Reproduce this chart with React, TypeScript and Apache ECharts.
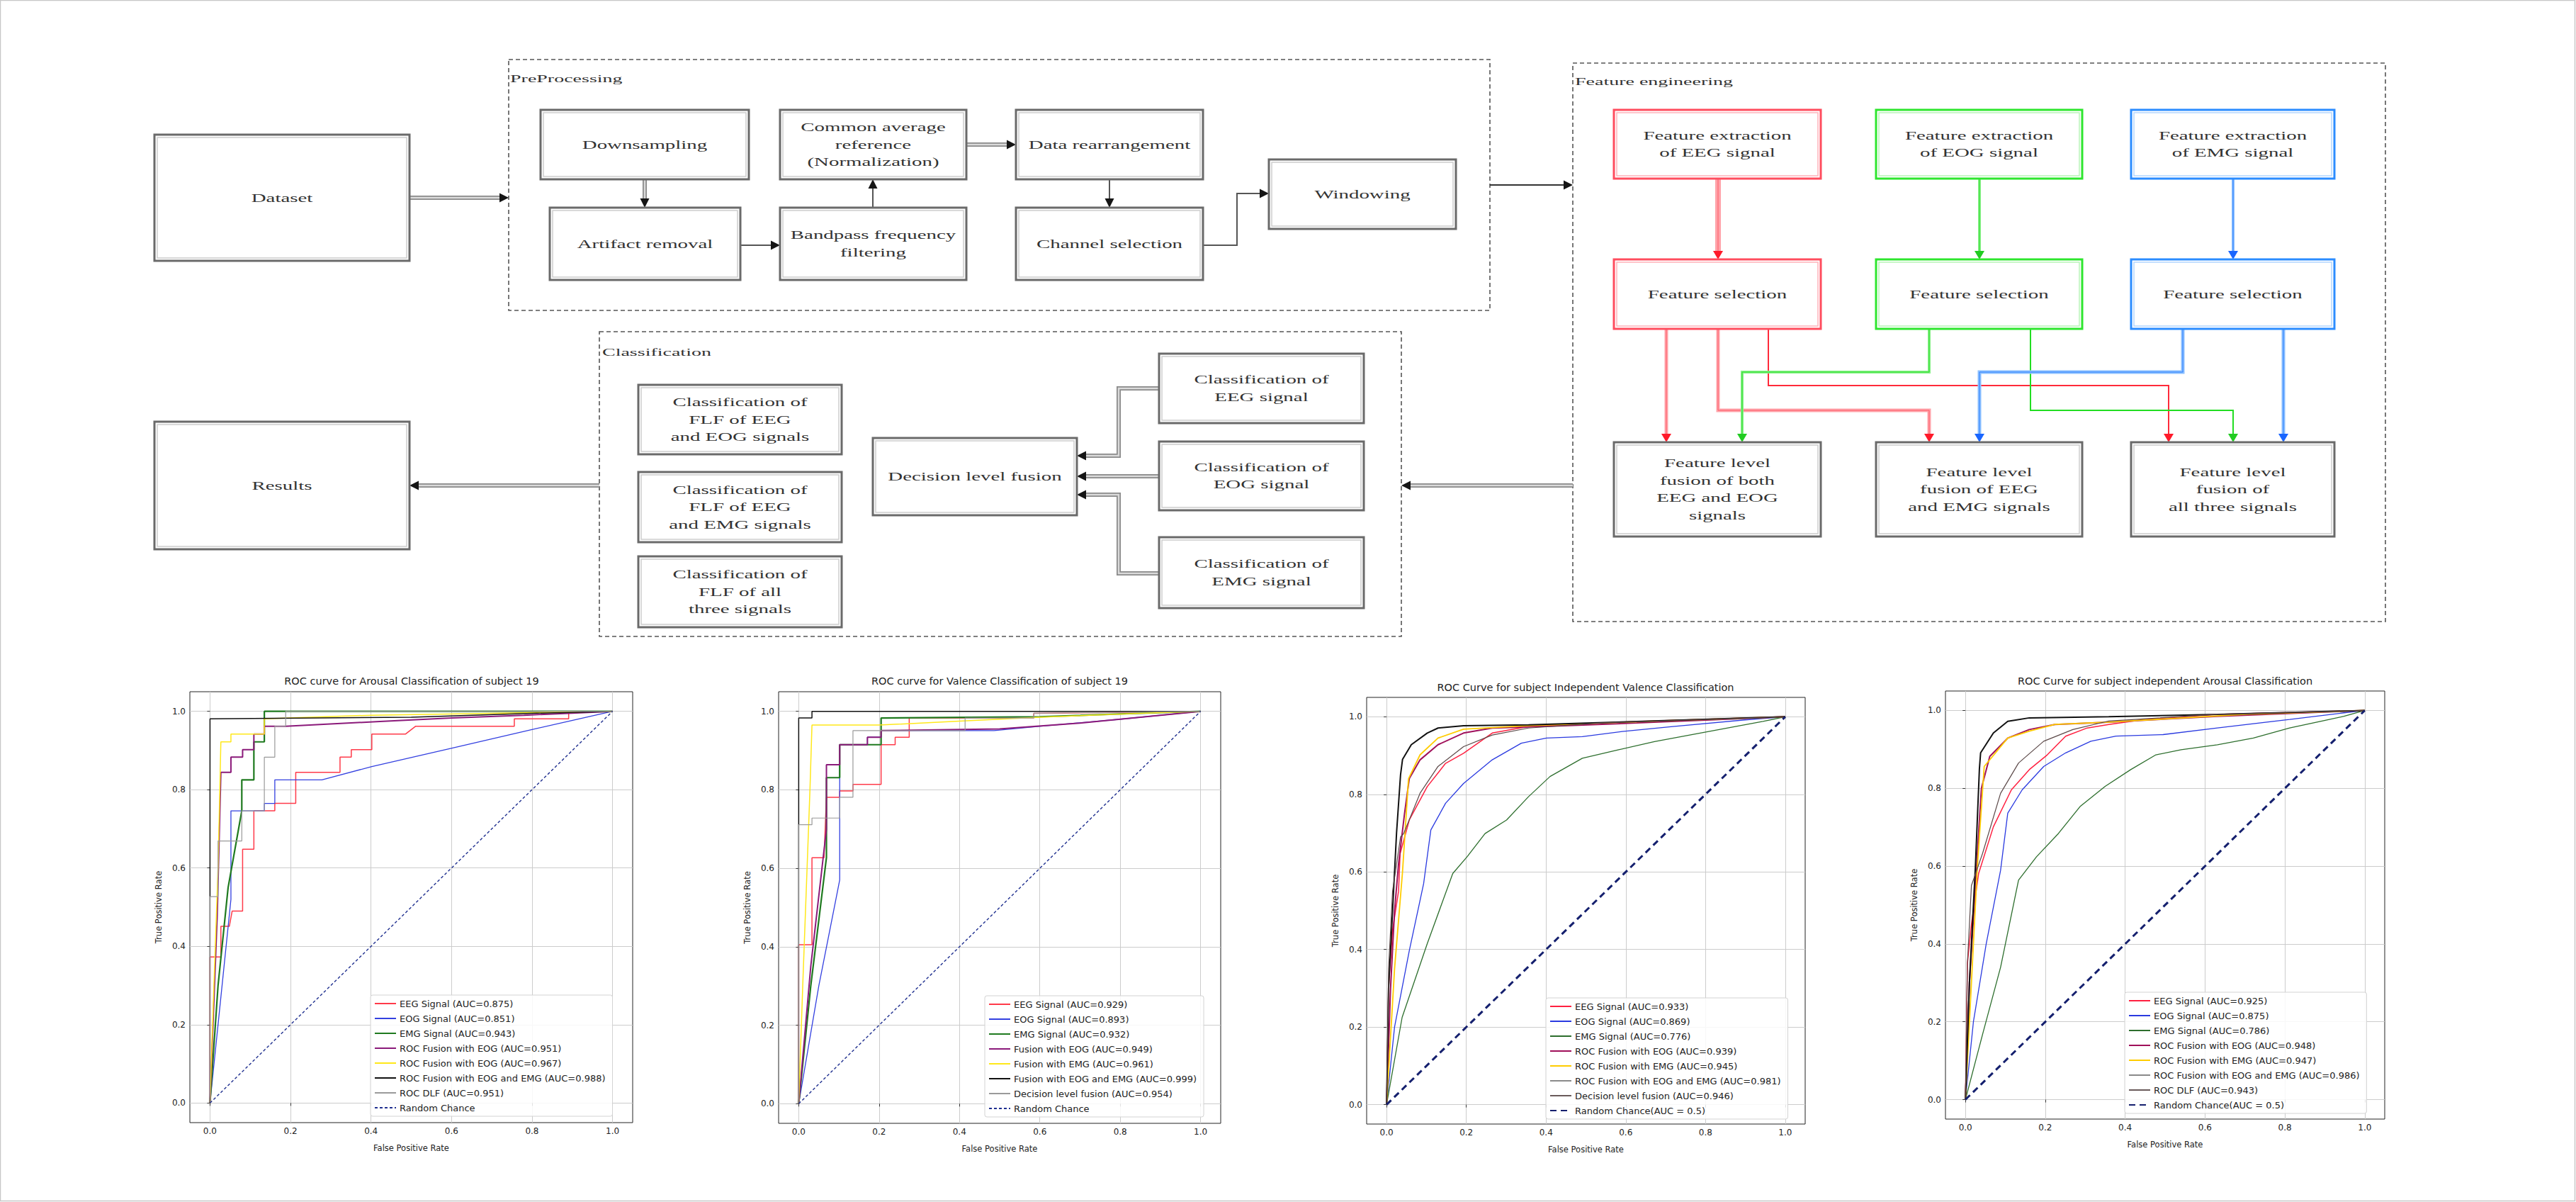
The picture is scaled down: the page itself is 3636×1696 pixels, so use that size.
import React, { useEffect, useRef } from 'react';
import * as echarts from 'echarts';

const FONT = '"DejaVu Sans", sans-serif';
const SERIF = '"Liberation Serif", "DejaVu Serif", serif';
const TICKS = [0, 0.2, 0.4, 0.6, 0.8, 1.0];
const RANDOM = [[0, 0], [1, 1]];

// ---------- Chart 1: Arousal, subject 19 ----------
const AR19_TITLE = 'ROC curve for Arousal Classification of subject 19';
const AR19_NAMES = ['EEG Signal (AUC=0.875)', 'EOG Signal (AUC=0.851)', 'EMG Signal (AUC=0.943)', 'ROC Fusion with EOG (AUC=0.951)', 'ROC Fusion with EOG (AUC=0.967)', 'ROC Fusion with EOG and EMG (AUC=0.988)', 'ROC DLF (AUC=0.951)', 'Random Chance'];
const AR19_EEG = [[0, 0], [0, 0.373], [0.027, 0.373], [0.027, 0.451], [0.048, 0.451], [0.055, 0.49], [0.081, 0.49], [0.081, 0.648], [0.109, 0.648], [0.109, 0.746], [0.161, 0.746], [0.161, 0.765], [0.213, 0.765], [0.213, 0.844], [0.323, 0.844], [0.323, 0.883], [0.351, 0.883], [0.351, 0.902], [0.402, 0.902], [0.402, 0.942], [0.486, 0.942], [0.511, 0.962], [0.756, 0.962], [0.756, 0.981], [0.891, 0.981], [0.891, 1.0], [1, 1]];
const AR19_EOG = [[0, 0], [0.052, 0.52], [0.052, 0.746], [0.135, 0.746], [0.135, 0.765], [0.161, 0.765], [0.161, 0.825], [0.278, 0.825], [0.402, 0.859], [0.601, 0.906], [0.798, 0.953], [1, 1]];
const AR19_EMG = [[0, 0], [0.02, 0.3], [0.045, 0.55], [0.079, 0.746], [0.079, 0.825], [0.109, 0.825], [0.109, 0.922], [0.135, 0.922], [0.135, 1.0], [1, 1]];
const AR19_FEOG = [[0, 0], [0.018, 0.48], [0.027, 0.844], [0.052, 0.844], [0.052, 0.883], [0.081, 0.883], [0.081, 0.902], [0.109, 0.902], [0.109, 0.942], [0.135, 0.942], [0.135, 0.962], [0.188, 0.962], [0.422, 0.974], [0.601, 0.983], [0.78, 0.99], [1, 1]];
const AR19_FEMG = [[0, 0], [0.008, 0.25], [0.02, 0.6], [0.027, 0.922], [0.052, 0.922], [0.052, 0.942], [0.135, 0.942], [0.135, 0.981], [0.4, 0.99], [0.7, 0.995], [1, 1]];
const AR19_FBOTH = [[0, 0], [0, 0.981], [0.5, 0.985], [0.8, 0.995], [1, 1]];
const AR19_DLF = [[0, 0], [0, 0.527], [0.02, 0.527], [0.02, 0.669], [0.079, 0.669], [0.079, 0.746], [0.135, 0.746], [0.135, 0.883], [0.161, 0.883], [0.161, 0.962], [0.188, 0.962], [0.188, 1.0], [1, 1]];

// ---------- Chart 2: Valence, subject 19 ----------
const VA19_TITLE = 'ROC curve for Valence Classification of subject 19';
const VA19_NAMES = ['EEG Signal (AUC=0.929)', 'EOG Signal (AUC=0.893)', 'EMG Signal (AUC=0.932)', 'Fusion with EOG (AUC=0.949)', 'Fusion with EMG (AUC=0.961)', 'Fusion with EOG and EMG (AUC=0.999)', 'Decision level fusion (AUC=0.954)', 'Random Chance'];
const VA19_EEG = [[0, 0], [0, 0.405], [0.033, 0.405], [0.033, 0.627], [0.063, 0.627], [0.069, 0.781], [0.102, 0.781], [0.102, 0.797], [0.135, 0.797], [0.135, 0.814], [0.205, 0.814], [0.205, 0.915], [0.24, 0.915], [0.24, 0.934], [0.275, 0.934], [0.275, 0.983], [0.585, 0.983], [0.585, 0.995], [1, 1]];
const VA19_EOG = [[0, 0], [0.05, 0.3], [0.102, 0.57], [0.102, 0.915], [0.171, 0.915], [0.171, 0.934], [0.205, 0.934], [0.205, 0.951], [0.486, 0.951], [0.603, 0.962], [0.801, 0.98], [1, 1]];
const VA19_EMG = [[0, 0], [0.03, 0.3], [0.069, 0.627], [0.069, 0.831], [0.102, 0.831], [0.102, 0.915], [0.205, 0.915], [0.205, 0.983], [0.6, 0.986], [0.85, 0.995], [1, 1]];
const VA19_FEOG = [[0, 0], [0.03, 0.35], [0.069, 0.7], [0.069, 0.864], [0.102, 0.864], [0.102, 0.915], [0.171, 0.915], [0.171, 0.934], [0.205, 0.934], [0.205, 0.951], [0.5, 0.955], [0.7, 0.97], [1, 1]];
const VA19_FEMG = [[0, 0], [0.01, 0.3], [0.028, 0.8], [0.033, 0.965], [0.2, 0.965], [0.4, 0.975], [0.6, 0.985], [0.85, 0.995], [1, 1]];
const VA19_FBOTH = [[0, 0], [0, 0.983], [0.033, 0.983], [0.033, 1.0], [1, 1]];
const VA19_DLF = [[0, 0], [0, 0.711], [0.033, 0.711], [0.033, 0.728], [0.102, 0.728], [0.102, 0.781], [0.135, 0.781], [0.135, 0.951], [0.414, 0.951], [0.414, 0.983], [0.585, 0.983], [0.585, 0.995], [1, 1]];

// ---------- Chart 3: subject independent Valence ----------
const VAI_TITLE = 'ROC Curve for subject Independent Valence Classification';
const VAI_NAMES = ['EEG Signal (AUC=0.933)', 'EOG Signal (AUC=0.869)', 'EMG Signal (AUC=0.776)', 'ROC Fusion with EOG (AUC=0.939)', 'ROC Fusion with EMG (AUC=0.945)', 'ROC Fusion with EOG and EMG (AUC=0.981)', 'Decision level fusion (AUC=0.946)', 'Random Chance(AUC = 0.5)'];
const VAI_EEG = [[0, 0], [0.005, 0.3], [0.015, 0.45], [0.03, 0.55], [0.034, 0.647], [0.057, 0.734], [0.102, 0.82], [0.148, 0.88], [0.193, 0.906], [0.265, 0.958], [0.356, 0.975], [0.627, 0.988], [1, 1]];
const VAI_EOG = [[0, 0], [0.02, 0.2], [0.057, 0.397], [0.093, 0.57], [0.111, 0.708], [0.148, 0.777], [0.193, 0.828], [0.265, 0.889], [0.338, 0.932], [0.401, 0.945], [0.491, 0.949], [0.591, 0.962], [0.718, 0.975], [0.899, 0.992], [1, 1]];
const VAI_EMG = [[0, 0], [0.039, 0.225], [0.102, 0.415], [0.166, 0.596], [0.202, 0.639], [0.247, 0.699], [0.301, 0.734], [0.356, 0.794], [0.41, 0.846], [0.491, 0.893], [0.582, 0.915], [0.672, 0.936], [0.808, 0.962], [0.944, 0.988], [1, 1]];
const VAI_FEOG = [[0, 0], [0.01, 0.3], [0.02, 0.5], [0.03, 0.62], [0.045, 0.75], [0.057, 0.841], [0.084, 0.889], [0.129, 0.928], [0.193, 0.958], [0.265, 0.971], [0.446, 0.977], [0.627, 0.984], [1, 1]];
const VAI_FEMG = [[0, 0], [0.02, 0.35], [0.04, 0.6], [0.055, 0.84], [0.084, 0.902], [0.129, 0.945], [0.193, 0.968], [0.356, 0.977], [0.7, 0.99], [1, 1]];
const VAI_FBOTH = [[0, 0], [0.005, 0.3], [0.015, 0.5], [0.025, 0.7], [0.035, 0.85], [0.04, 0.89], [0.062, 0.928], [0.102, 0.958], [0.129, 0.971], [0.193, 0.977], [0.356, 0.979], [0.627, 0.988], [1, 1]];
const VAI_DLF = [[0, 0], [0.005, 0.35], [0.015, 0.55], [0.035, 0.69], [0.043, 0.699], [0.084, 0.803], [0.129, 0.872], [0.193, 0.923], [0.265, 0.953], [0.356, 0.971], [0.537, 0.984], [1, 1]];

// ---------- Chart 4: subject independent Arousal ----------
const ARI_TITLE = 'ROC Curve for subject independent Arousal Classification';
const ARI_NAMES = ['EEG Signal (AUC=0.925)', 'EOG Signal (AUC=0.875)', 'EMG Signal (AUC=0.786)', 'ROC Fusion with EOG (AUC=0.948)', 'ROC Fusion with EMG (AUC=0.947)', 'ROC Fusion with EOG and EMG (AUC=0.986)', 'ROC DLF (AUC=0.943)', 'Random Chance(AUC = 0.5)'];
const ARI_EEG = [[0, 0], [0.005, 0.35], [0.015, 0.45], [0.033, 0.581], [0.07, 0.701], [0.115, 0.796], [0.16, 0.848], [0.205, 0.886], [0.251, 0.934], [0.305, 0.955], [0.359, 0.964], [0.45, 0.977], [0.631, 0.99], [1, 1]];
const ARI_EOG = [[0, 0], [0.02, 0.2], [0.052, 0.4], [0.088, 0.589], [0.106, 0.736], [0.142, 0.796], [0.196, 0.856], [0.251, 0.891], [0.314, 0.921], [0.377, 0.934], [0.495, 0.938], [0.631, 0.955], [0.812, 0.977], [0.948, 0.994], [1, 1]];
const ARI_EMG = [[0, 0], [0.043, 0.168], [0.088, 0.34], [0.133, 0.564], [0.178, 0.624], [0.233, 0.684], [0.287, 0.753], [0.35, 0.805], [0.414, 0.848], [0.477, 0.886], [0.54, 0.899], [0.631, 0.912], [0.721, 0.929], [0.812, 0.955], [0.948, 0.985], [1, 1]];
const ARI_FEOG = [[0, 0], [0.01, 0.3], [0.025, 0.55], [0.04, 0.8], [0.061, 0.882], [0.106, 0.929], [0.16, 0.951], [0.224, 0.964], [0.359, 0.97], [0.631, 0.985], [1, 1]];
const ARI_FEMG = [[0, 0], [0.015, 0.3], [0.03, 0.6], [0.047, 0.856], [0.106, 0.929], [0.16, 0.947], [0.224, 0.964], [0.359, 0.97], [0.7, 0.99], [1, 1]];
const ARI_FBOTH = [[0, 0], [0.01, 0.3], [0.025, 0.6], [0.035, 0.85], [0.038, 0.891], [0.07, 0.942], [0.106, 0.972], [0.16, 0.981], [0.359, 0.984], [0.631, 0.99], [1, 1]];
const ARI_DLF = [[0, 0], [0.005, 0.35], [0.015, 0.55], [0.043, 0.633], [0.088, 0.787], [0.133, 0.865], [0.196, 0.921], [0.269, 0.951], [0.359, 0.973], [0.631, 0.99], [1, 1]];

// line styles [color, width, dash]
const STYLE_SUBJ = [['#ff3a4a', 1.5], ['#3340e0', 1.3], ['#1f7a1f', 2.2], ['#8b1a7a', 2], ['#ffe81a', 1.5], ['#111111', 1.5], ['#9a9a9a', 1.2], ['#1f2f8f', 1.4, [4, 3]]];
const STYLE_IND = [['#ff2040', 1.5], ['#2a3ae0', 1.3], ['#2d6e2d', 1.3], ['#a0105a', 2], ['#ffcc00', 1.8], ['#111111', 2], ['#5b4848', 1.2], ['#15206e', 3, [9, 6]]];
// legend icon colours where the legend differs from the plotted line
const LEGEND_IND_OVERRIDE: Record<number, string> = { 5: '#8a8a8a', 6: '#6a5a5a' };

const CHARTS = [
  { title: AR19_TITLE, names: AR19_NAMES, data: [AR19_EEG, AR19_EOG, AR19_EMG, AR19_FEOG, AR19_FEMG, AR19_FBOTH, AR19_DLF, RANDOM], style: STYLE_SUBJ, override: {}, grid: [268, 976, 625, 608], titleXY: [581, 961], legend: [523, 1404] },
  { title: VA19_TITLE, names: VA19_NAMES, data: [VA19_EEG, VA19_EOG, VA19_EMG, VA19_FEOG, VA19_FEMG, VA19_FBOTH, VA19_DLF, RANDOM], style: STYLE_SUBJ, override: {}, grid: [1099, 976, 624, 609], titleXY: [1411, 961], legend: [1390, 1405] },
  { title: VAI_TITLE, names: VAI_NAMES, data: [VAI_EEG, VAI_EOG, VAI_EMG, VAI_FEOG, VAI_FEMG, VAI_FBOTH, VAI_DLF, RANDOM], style: STYLE_IND, override: LEGEND_IND_OVERRIDE, grid: [1929, 984, 619, 602], titleXY: [2238, 970], legend: [2182, 1408] },
  { title: ARI_TITLE, names: ARI_NAMES, data: [ARI_EEG, ARI_EOG, ARI_EMG, ARI_FEOG, ARI_FEMG, ARI_FBOTH, ARI_DLF, RANDOM], style: STYLE_IND, override: LEGEND_IND_OVERRIDE, grid: [2746, 975, 620, 604], titleXY: [3056, 961], legend: [2999, 1400] },
];

// ---------- Flowchart helpers ----------
const GRAY = ['#6a6a6a', '#cdcdcd'];
const RED = ['#ff4d5e', '#ffb3ba'];
const GREEN = ['#2ee62e', '#b8f5b8'];
const BLUE = ['#2b8cff', '#b3d6ff'];

function box(x1: number, y1: number, x2: number, y2: number, col: string[]) {
  return [
    { type: 'rect', silent: true, shape: { x: x1, y: y1, width: x2 - x1, height: y2 - y1 }, style: { fill: '#fff', stroke: col[0], lineWidth: 3 } },
    { type: 'rect', silent: true, shape: { x: x1 + 4, y: y1 + 4, width: x2 - x1 - 8, height: y2 - y1 - 8 }, style: { fill: 'none', stroke: col[1], lineWidth: 1.5 } },
  ];
}
function dashed(x1: number, y1: number, x2: number, y2: number) {
  return { type: 'rect', silent: true, shape: { x: x1, y: y1, width: x2 - x1, height: y2 - y1 }, style: { fill: 'none', stroke: '#555', lineWidth: 1.6, lineDash: [6, 4] } };
}
function txt(text: string, x: number, y: number, fs = 17, sx = 1.7, align = 'center') {
  return {
    type: 'text', silent: true, x, y, scaleX: sx,
    style: { text, x: 0, y: 0, fill: '#333333', fontSize: fs, fontFamily: SERIF, textAlign: align, align, textVerticalAlign: 'middle', verticalAlign: 'middle', lineHeight: 24.5 },
  };
}
function line(pts: number[][], color: string, w: number) {
  return { type: 'polyline', silent: true, shape: { points: pts }, style: { stroke: color, lineWidth: w, fill: 'none' } };
}
function thick(pts: number[][]) {
  return [line(pts, '#8a8a8a', 6), line(pts, '#dadada', 2.5)];
}
function arrow(x: number, y: number, dir: string, color = '#151515', L = 13, W = 13) {
  let p: number[][] = [];
  if (dir === 'r') p = [[x, y], [x - L, y - W / 2], [x - L, y + W / 2]];
  if (dir === 'l') p = [[x, y], [x + L, y - W / 2], [x + L, y + W / 2]];
  if (dir === 'u') p = [[x, y], [x - W / 2, y + L], [x + W / 2, y + L]];
  if (dir === 'd') p = [[x, y], [x - W / 2, y - L], [x + W / 2, y - L]];
  return { type: 'polygon', silent: true, shape: { points: p }, style: { fill: color } };
}
function colored(pts: number[][], dark: string, light: string, w: number) {
  return w > 3 ? [line(pts, light, w), line(pts, dark, 1)] : [line(pts, dark, w)];
}

function buildGraphic() {
  const g: any[] = [];
  // page border
  g.push({ type: 'rect', silent: true, shape: { x: 0.5, y: 0.5, width: 3634, height: 1694 }, style: { fill: 'none', stroke: '#c8c8c8', lineWidth: 1.5 } });

  // dashed groups
  g.push(dashed(718, 84, 2103, 438), dashed(2220, 89, 3367, 877), dashed(846, 468, 1978, 898));
  g.push(txt('PreProcessing', 720, 111, 14, 2.0, 'left'));
  g.push(txt('Feature engineering', 2223, 115, 14, 2.0, 'left'));
  g.push(txt('Classification', 850, 497, 14, 2.0, 'left'));

  // connectors (drawn below boxes)
  g.push(...thick([[578, 279], [706, 279]]), arrow(718, 279, 'r'));
  g.push(...thick([[910, 253], [910, 281]]), arrow(910, 293, 'd'));
  g.push(line([[1045, 346], [1090, 346]], '#555', 2), arrow(1101, 346, 'r'));
  g.push(line([[1232, 293], [1232, 264]], '#555', 2), arrow(1232, 253, 'u'));
  g.push(...thick([[1364, 204], [1422, 204]]), arrow(1434, 204, 'r'));
  g.push(line([[1566, 253], [1566, 282]], '#555', 2), arrow(1566, 293, 'd'));
  g.push(line([[1698, 346], [1746, 346], [1746, 273], [1780, 273]], '#555', 2), arrow(1791, 273, 'r'));
  g.push(line([[2103, 261], [2208, 261]], '#333', 2), arrow(2220, 261, 'r'));
  g.push(...thick([[2220, 685], [1990, 685]]), arrow(1978, 685, 'l'));
  g.push(...thick([[846, 685], [590, 685]]), arrow(578, 685, 'l'));
  g.push(...thick([[1636, 548], [1579, 548], [1579, 643], [1532, 643]]), arrow(1520, 643, 'l'));
  g.push(...thick([[1636, 672], [1532, 672]]), arrow(1520, 672, 'l'));
  g.push(...thick([[1636, 809], [1579, 809], [1579, 698], [1532, 698]]), arrow(1520, 698, 'l'));

  // feature engineering connectors
  g.push(...colored([[2425, 252], [2425, 355]], '#ff5a66', '#ffa3aa', 8), arrow(2425, 366, 'd', '#ff1a2a', 12, 14));
  g.push(...colored([[2794, 252], [2794, 355]], '#22dd22', '#88f088', 4), arrow(2794, 366, 'd', '#22cc22', 12, 14));
  g.push(...colored([[3152, 252], [3152, 355]], '#2a7fff', '#8cc0ff', 4), arrow(3152, 366, 'd', '#1a66ff', 12, 14));

  g.push(...colored([[2352, 464], [2352, 613]], '#ff5a66', '#ffa3aa', 5), arrow(2352, 624, 'd', '#ff1a2a', 12, 14));
  g.push(...colored([[2425, 464], [2425, 579], [2723, 579], [2723, 613]], '#ff5a66', '#ffa3aa', 5), arrow(2723, 624, 'd', '#ff1a2a', 12, 14));
  g.push(...colored([[2496, 464], [2496, 544], [3061, 544], [3061, 613]], '#ff2a3a', '#ff2a3a', 2), arrow(3061, 624, 'd', '#ff1a2a', 12, 14));
  g.push(...colored([[2723, 464], [2723, 525], [2459, 525], [2459, 613]], '#22dd22', '#88f088', 4), arrow(2459, 624, 'd', '#22cc22', 12, 14));
  g.push(...colored([[2866, 464], [2866, 579], [3152, 579], [3152, 613]], '#22dd22', '#22dd22', 2), arrow(3152, 624, 'd', '#22cc22', 12, 14));
  g.push(...colored([[3081, 464], [3081, 525], [2794, 525], [2794, 613]], '#2a7fff', '#8cc0ff', 5), arrow(2794, 624, 'd', '#1a66ff', 12, 14));
  g.push(...colored([[3223, 464], [3223, 613]], '#2a7fff', '#8cc0ff', 5), arrow(3223, 624, 'd', '#1a66ff', 12, 14));

  // boxes + labels
  const B = (x1: number, y1: number, x2: number, y2: number, col: string[], label: string) => {
    g.push(...box(x1, y1, x2, y2, col));
    g.push(txt(label, (x1 + x2) / 2, (y1 + y2) / 2));
  };
  B(218, 190, 578, 368, GRAY, 'Dataset');
  B(218, 595, 578, 775, GRAY, 'Results');
  B(763, 155, 1057, 253, GRAY, 'Downsampling');
  B(1101, 155, 1364, 253, GRAY, 'Common average\nreference\n(Normalization)');
  B(1434, 155, 1698, 253, GRAY, 'Data rearrangement');
  B(776, 293, 1045, 395, GRAY, 'Artifact removal');
  B(1101, 293, 1364, 395, GRAY, 'Bandpass frequency\nfiltering');
  B(1434, 293, 1698, 395, GRAY, 'Channel selection');
  B(1791, 225, 2055, 323, GRAY, 'Windowing');

  B(2278, 155, 2570, 252, RED, 'Feature extraction\nof EEG signal');
  B(2648, 155, 2939, 252, GREEN, 'Feature extraction\nof EOG signal');
  B(3008, 155, 3295, 252, BLUE, 'Feature extraction\nof EMG signal');
  B(2278, 366, 2570, 464, RED, 'Feature selection');
  B(2648, 366, 2939, 464, GREEN, 'Feature selection');
  B(3008, 366, 3295, 464, BLUE, 'Feature selection');
  B(2278, 624, 2570, 757, GRAY, 'Feature level\nfusion of both\nEEG and EOG\nsignals');
  B(2648, 624, 2939, 757, GRAY, 'Feature level\nfusion of EEG\nand EMG signals');
  B(3008, 624, 3295, 757, GRAY, 'Feature level\nfusion of\nall three signals');

  B(901, 543, 1188, 641, GRAY, 'Classification of\nFLF of EEG\nand EOG signals');
  B(901, 666, 1188, 765, GRAY, 'Classification of\nFLF of EEG\nand EMG signals');
  B(901, 785, 1188, 885, GRAY, 'Classification of\nFLF of all\nthree signals');
  B(1232, 618, 1520, 727, GRAY, 'Decision level fusion');
  B(1636, 499, 1925, 597, GRAY, 'Classification of\nEEG signal');
  B(1636, 623, 1925, 720, GRAY, 'Classification of\nEOG signal');
  B(1636, 758, 1925, 858, GRAY, 'Classification of\nEMG signal');

  // chart titles
  CHARTS.forEach((c) => {
    g.push({ type: 'text', silent: true, x: c.titleXY[0], y: c.titleXY[1], style: { text: c.title, x: 0, y: 0, fill: '#222', fontSize: 14.5, fontFamily: FONT, textAlign: 'center', align: 'center', textVerticalAlign: 'middle', verticalAlign: 'middle' } });
  });
  return g;
}

function buildOption() {
  const grid: any[] = [], xAxis: any[] = [], yAxis: any[] = [], legend: any[] = [], series: any[] = [];
  CHARTS.forEach((c, i) => {
    grid.push({ left: c.grid[0], top: c.grid[1], width: c.grid[2], height: c.grid[3], show: true, borderColor: '#222', borderWidth: 1, backgroundColor: 'transparent', containLabel: false });
    const ax = (isX: boolean) => ({
      gridIndex: i, type: 'value', min: -0.05, max: 1.05,
      axisLine: { show: false },
      axisTick: { show: true, customValues: TICKS, length: 4, lineStyle: { color: '#333', width: 1 } },
      axisLabel: { show: true, customValues: TICKS, formatter: (v: number) => v.toFixed(1), fontSize: 12, color: '#222', fontFamily: FONT, margin: 6 },
      splitLine: { show: true, lineStyle: { color: '#cccccc', width: 1 } },
      name: isX ? 'False Positive Rate' : 'True Positive Rate',
      nameLocation: 'middle', nameGap: isX ? 30 : 38,
      nameTextStyle: { fontSize: 11.5, color: '#222', fontFamily: FONT },
    });
    xAxis.push(ax(true));
    yAxis.push(ax(false));
    const ov: Record<number, string> = c.override as any;
    legend.push({
      left: c.legend[0], top: c.legend[1], orient: 'vertical',
      data: c.names.map((n, k) => (ov[k] ? { name: n, lineStyle: { color: ov[k] } } : { name: n })),
      itemWidth: 30, itemHeight: 10, itemGap: 7, padding: [5, 10, 5, 5],
      backgroundColor: 'rgba(255,255,255,0.85)', borderColor: '#d3d3d3', borderWidth: 1, borderRadius: 3,
      textStyle: { fontSize: 13, fontFamily: FONT, color: '#222', lineHeight: 14 },
      itemStyle: { opacity: 0 },
      selectedMode: false,
    });
    c.names.forEach((n, k) => {
      const st: any = c.style[k];
      series.push({
        type: 'line', name: n, xAxisIndex: i, yAxisIndex: i, data: c.data[k],
        symbol: 'circle', symbolSize: 0, showSymbol: false, silent: true, z: 2 + k,
        lineStyle: { color: st[0], width: st[1], type: st[2] || 'solid' },
        itemStyle: { color: st[0], opacity: 0 },
      });
    });
  });
  return { animation: false, backgroundColor: '#fff', grid, xAxis, yAxis, legend, series, graphic: buildGraphic() };
}

export default function App() {
  const ref = useRef<HTMLDivElement>(null);
  useEffect(() => {
    const chart = echarts.init(ref.current!, null, { renderer: 'svg' });
    chart.setOption(buildOption() as any);
    return () => chart.dispose();
  }, []);
  return <div ref={ref} style={{ position: 'absolute', left: 0, top: 0, width: 3636, height: 1696, background: '#fff' }} />;
}
